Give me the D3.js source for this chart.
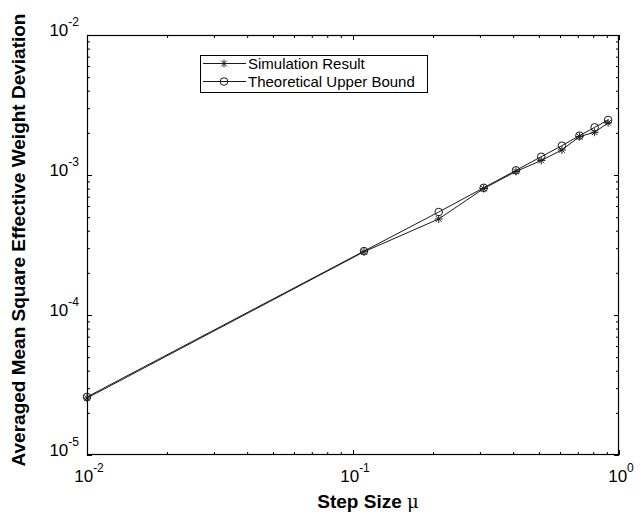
<!DOCTYPE html>
<html><head><meta charset="utf-8">
<script src="https://cdn.jsdelivr.net/npm/d3@7"></script>
<style>body{margin:0;background:#fff}svg{display:block}text{font-family:"Liberation Sans",Arial,Helvetica,sans-serif;fill:#000}</style>
</head><body>
<svg id="c" width="644" height="514"></svg>
<script>
const mu = [0.01, 0.11, 0.21, 0.31, 0.41, 0.51, 0.61, 0.71, 0.81, 0.91];
const simulation = [2.55e-5, 2.83e-4, 4.85e-4, 8.0e-4, 1.06e-3, 1.27e-3, 1.51e-3, 1.88e-3, 2.02e-3, 2.36e-3];
const theory = [2.6e-5, 2.86e-4, 5.44e-4, 8.1e-4, 1.08e-3, 1.35e-3, 1.62e-3, 1.91e-3, 2.19e-3, 2.47e-3];
const xTicks = [0.01, 0.1, 1];
const xTickExp = ["-2", "-1", "0"];
const yTicks = [1e-5, 1e-4, 1e-3, 1e-2];
const yTickExp = ["-5", "-4", "-3", "-2"];
const seriesNames = ["Simulation Result", "Theoretical Upper Bound"];
const xTitle = "Step Size ";
const yTitle = "Averaged Mean Square Effective Weight Deviation";

const L = 87, R = 619, T = 35, B = 455;
const svg = d3.select("#c");
const x = d3.scaleLog().domain([0.01, 1]).range([L, R]);
const y = d3.scaleLog().domain([1e-5, 1e-2]).range([B, T]);

const xMinor = x.ticks().filter(v => !xTicks.some(t => Math.abs(t - v) / t < 1e-6));
const yMinor = y.ticks().filter(v => !yTicks.some(t => Math.abs(t - v) / t < 1e-6));

function addAxis(gen, tf, vals, size) {
  const g = svg.append("g").attr("transform", tf)
    .call(gen.tickValues(vals).tickSize(-size).tickFormat(""));
  g.select(".domain").remove();
  g.selectAll(".tick line").attr("stroke", "#000").attr("stroke-width", 1);
  g.selectAll("text").remove();
}
[[xTicks, 5], [xMinor, 3]].forEach(([v, s]) => {
  addAxis(d3.axisBottom(x), `translate(0,${B})`, v, s);
  addAxis(d3.axisTop(x), `translate(0,${T})`, v, s);
});
[[yTicks, 5], [yMinor, 3]].forEach(([v, s]) => {
  addAxis(d3.axisLeft(y), `translate(${L},0)`, v, s);
  addAxis(d3.axisRight(y), `translate(${R},0)`, v, s);
});
svg.append("rect").attr("x", L + 0.5).attr("y", T + 0.5).attr("width", R - L - 1).attr("height", B - T - 1)
  .attr("fill", "none").attr("stroke", "#000").attr("stroke-width", 1.2);

// tick labels
xTicks.forEach((v, i) => {
  const t = svg.append("text").attr("x", x(v) + 2).attr("y", B + 27).attr("text-anchor", "middle").style("font-size", "17px");
  t.append("tspan").text("10");
  t.append("tspan").attr("dy", -10).style("font-size", "12px").text(xTickExp[i]);
});
yTicks.forEach((v, i) => {
  const t = svg.append("text").attr("x", L - 8).attr("y", y(v) + 1).attr("text-anchor", "end").style("font-size", "17px");
  t.append("tspan").text("10");
  t.append("tspan").attr("dy", -10).style("font-size", "12px").text(yTickExp[i]);
});

// titles
const xt = svg.append("text").attr("x", 368).attr("y", 508).attr("text-anchor", "middle")
  .style("font-size", "19px").style("font-weight", "bold");
xt.append("tspan").text(xTitle);
xt.append("tspan").style("font-weight", "normal").style("font-family", "'DejaVu Serif',serif").style("font-size", "18px").text("\u03BC");
svg.append("text").attr("transform", "translate(25,240) rotate(-90)").attr("text-anchor", "middle")
  .style("font-size", "19px").style("font-weight", "bold").text(yTitle);

// series
const line = d3.line().x(d => x(d[0])).y(d => y(d[1]));
const simData = mu.map((m, i) => [m, simulation[i]]);
const thData = mu.map((m, i) => [m, theory[i]]);
svg.append("path").attr("d", line(thData)).attr("fill", "none").attr("stroke", "#1a1a1a").attr("stroke-width", 1);
svg.append("path").attr("d", line(simData)).attr("fill", "none").attr("stroke", "#1a1a1a").attr("stroke-width", 1);

const starPath = (cx, cy, r) => {
  let p = "";
  for (let k = 0; k < 4; k++) {
    const a = k * Math.PI / 4;
    const dx = r * Math.cos(a), dy = r * Math.sin(a);
    p += `M${cx - dx},${cy - dy}L${cx + dx},${cy + dy}`;
  }
  return p;
};
svg.append("g").selectAll("circle").data(thData).join("circle")
  .attr("cx", d => x(d[0])).attr("cy", d => y(d[1])).attr("r", 3.8)
  .attr("fill", "none").attr("stroke", "#1a1a1a").attr("stroke-width", 1);
svg.append("g").selectAll("path").data(simData).join("path")
  .attr("d", d => starPath(x(d[0]), y(d[1]), 4))
  .attr("stroke", "#1a1a1a").attr("stroke-width", 1).attr("fill", "none");

// legend
const lg = svg.append("g");
lg.append("rect").attr("x", 200.5).attr("y", 55.5).attr("width", 227).attr("height", 37)
  .attr("fill", "#fff").attr("stroke", "#000").attr("stroke-width", 1);
const rows = [63.5, 81.5];
seriesNames.forEach((name, i) => {
  const cy = rows[i];
  lg.append("line").attr("x1", 203).attr("x2", 246).attr("y1", cy).attr("y2", cy).attr("stroke", "#1a1a1a");
  if (i === 0) lg.append("path").attr("d", starPath(224, cy, 4)).attr("stroke", "#1a1a1a").attr("fill", "none");
  else lg.append("circle").attr("cx", 224).attr("cy", cy).attr("r", 3.8).attr("fill", "none").attr("stroke", "#1a1a1a");
  lg.append("text").attr("x", 248).attr("y", cy + 5.5).style("font-size", "15px").text(name);
});
</script>
</body></html>
